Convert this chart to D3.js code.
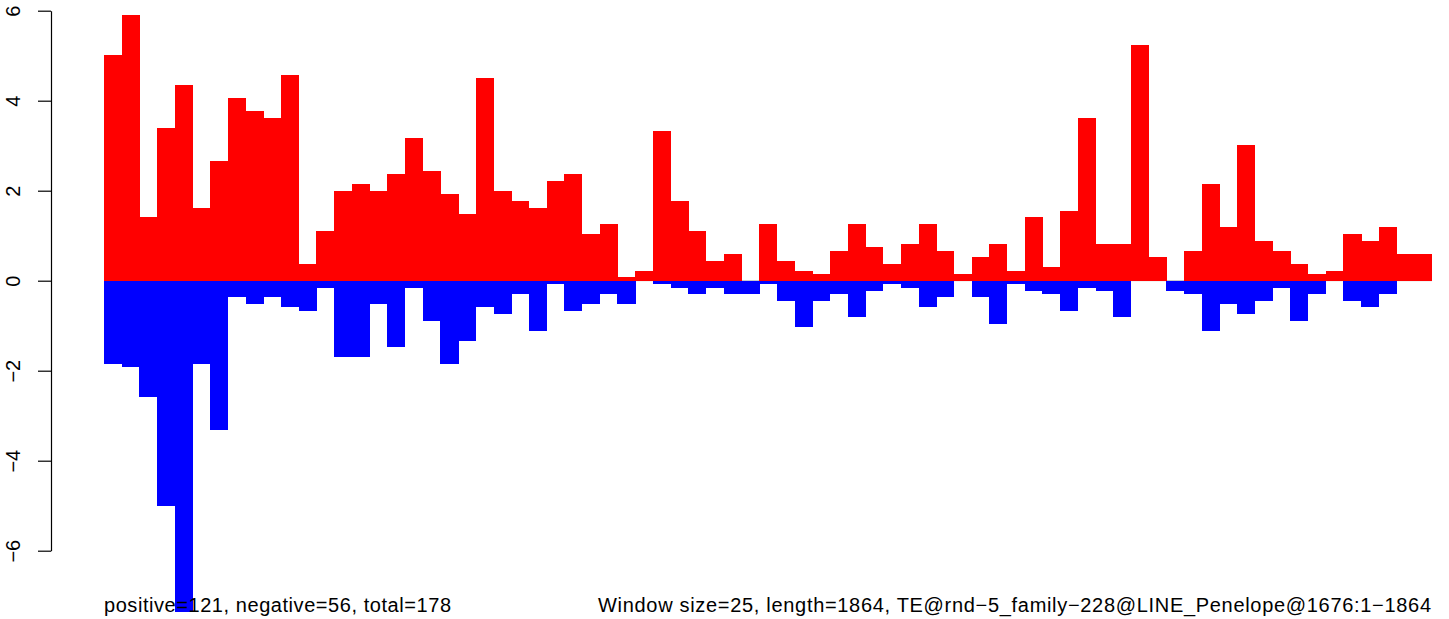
<!DOCTYPE html>
<html>
<head>
<meta charset="utf-8">
<script src="https://cdn.jsdelivr.net/npm/d3@7"></script>
<style>
html, body { margin: 0; padding: 0; background: #fff; }
svg { display: block; }
text { font-family: "Liberation Sans", Arial, Helvetica, sans-serif; fill: #000; }
</style>
</head>
<body>
<svg id="chart" width="1449" height="619"></svg>
<script>
// Positive (red) and negative (blue) window scores, 75 windows of size 25
const positiveValues = [
  5.02, 5.90, 1.42, 3.39, 4.35, 1.62, 2.66, 4.06, 3.77, 3.62,
  4.57, 0.37, 1.11, 1.99, 2.15, 1.99, 2.37, 3.17, 2.44, 1.93,
  1.48, 4.50, 1.99, 1.77, 1.62, 2.22, 2.37, 1.04, 1.26, 0.08,
  0.22, 3.33, 1.77, 1.10, 0.44, 0.59, 0.00, 1.26, 0.44, 0.22,
  0.15, 0.66, 1.26, 0.75, 0.37, 0.82, 1.26, 0.66, 0.15, 0.53,
  0.82, 0.22, 1.42, 0.30, 1.55, 3.62, 0.82, 0.82, 5.24, 0.53,
  0.00, 0.66, 2.15, 1.19, 3.02, 0.88, 0.66, 0.37, 0.15, 0.22,
  1.04, 0.88, 1.19, 0.59, 0.59
];
const negativeValues = [
  -1.85, -1.92, -2.58, -5.01, -7.37, -1.85, -3.32, -0.36, -0.52, -0.36,
  -0.58, -0.67, -0.16, -1.70, -1.70, -0.52, -1.47, -0.16, -0.90, -1.85,
  -1.34, -0.58, -0.74, -0.30, -1.12, -0.07, -0.67, -0.52, -0.30, -0.52,
   0.00, -0.07, -0.16, -0.30, -0.16, -0.30, -0.30, -0.07, -0.45, -1.03,
  -0.45, -0.30, -0.81, -0.23, -0.07, -0.16, -0.58, -0.36, 0.00, -0.36,
  -0.96, -0.07, -0.23, -0.30, -0.67, -0.16, -0.23, -0.81, 0.00, 0.00,
  -0.23, -0.30, -1.12, -0.52, -0.74, -0.45, -0.16, -0.90, -0.30, 0.00,
  -0.45, -0.58, -0.30, 0.00, 0.00
];
const yTickValues = [-6, -4, -2, 0, 2, 4, 6];
const leftLabel = "positive=121, negative=56, total=178";
const rightLabel = "Window size=25, length=1864, TE@rnd\u22125_family\u2212228@LINE_Penelope@1676:1\u22121864";

const svg = d3.select("#chart");
const windows = d3.range(positiveValues.length);

const x = d3.scaleBand().domain(windows).range([104, 1432]).padding(0);
const y = d3.scaleLinear().domain([6, -6]).range([10.7, 550.7]);

// baseline
svg.append("line")
  .attr("x1", x.range()[0]).attr("x2", x.range()[1])
  .attr("y1", y(0)).attr("y2", y(0))
  .attr("stroke", "#bebebe").attr("stroke-width", 1);

// positive bars
svg.append("g").selectAll("rect")
  .data(windows.filter(i => positiveValues[i] > 0))
  .join("rect")
  .attr("x", i => x(i))
  .attr("width", x.bandwidth() + 0.4)
  .attr("y", i => y(positiveValues[i]))
  .attr("height", i => y(0) - y(positiveValues[i]))
  .attr("fill", "#ff0000")
  .attr("shape-rendering", "crispEdges");

// negative bars
svg.append("g").selectAll("rect")
  .data(windows.filter(i => negativeValues[i] < 0))
  .join("rect")
  .attr("x", i => x(i))
  .attr("width", x.bandwidth() + 0.4)
  .attr("y", y(0))
  .attr("height", i => y(negativeValues[i]) - y(0))
  .attr("fill", "#0000ff")
  .attr("shape-rendering", "crispEdges");

// y axis
const axisG = svg.append("g")
  .attr("transform", "translate(51,0)")
  .call(d3.axisLeft(y).tickValues(yTickValues).tickSize(13).tickSizeOuter(0).tickFormat(d3.format("d")));
axisG.select(".domain").attr("stroke", "#000").attr("stroke-width", 1.2);
axisG.selectAll(".tick line").attr("stroke", "#000").attr("stroke-width", 1.2);
axisG.selectAll(".tick text")
  .attr("x", null).attr("dy", null)
  .attr("text-anchor", "middle")
  .attr("transform", "translate(-31,0) rotate(-90)")
  .style("font-size", "20px")
  .style("font-family", "'Liberation Sans', Arial, sans-serif");

// bottom texts
svg.append("text")
  .attr("x", 104).attr("y", 611.7)
  .attr("text-anchor", "start")
  .style("font-size", "20px")
  .attr("textLength", 347)
  .attr("lengthAdjust", "spacing")
  .text(leftLabel);

svg.append("text")
  .attr("x", 598).attr("y", 611.7)
  .attr("text-anchor", "start")
  .style("font-size", "20px")
  .attr("textLength", 833)
  .attr("lengthAdjust", "spacing")
  .text(rightLabel);
</script>
</body>
</html>
